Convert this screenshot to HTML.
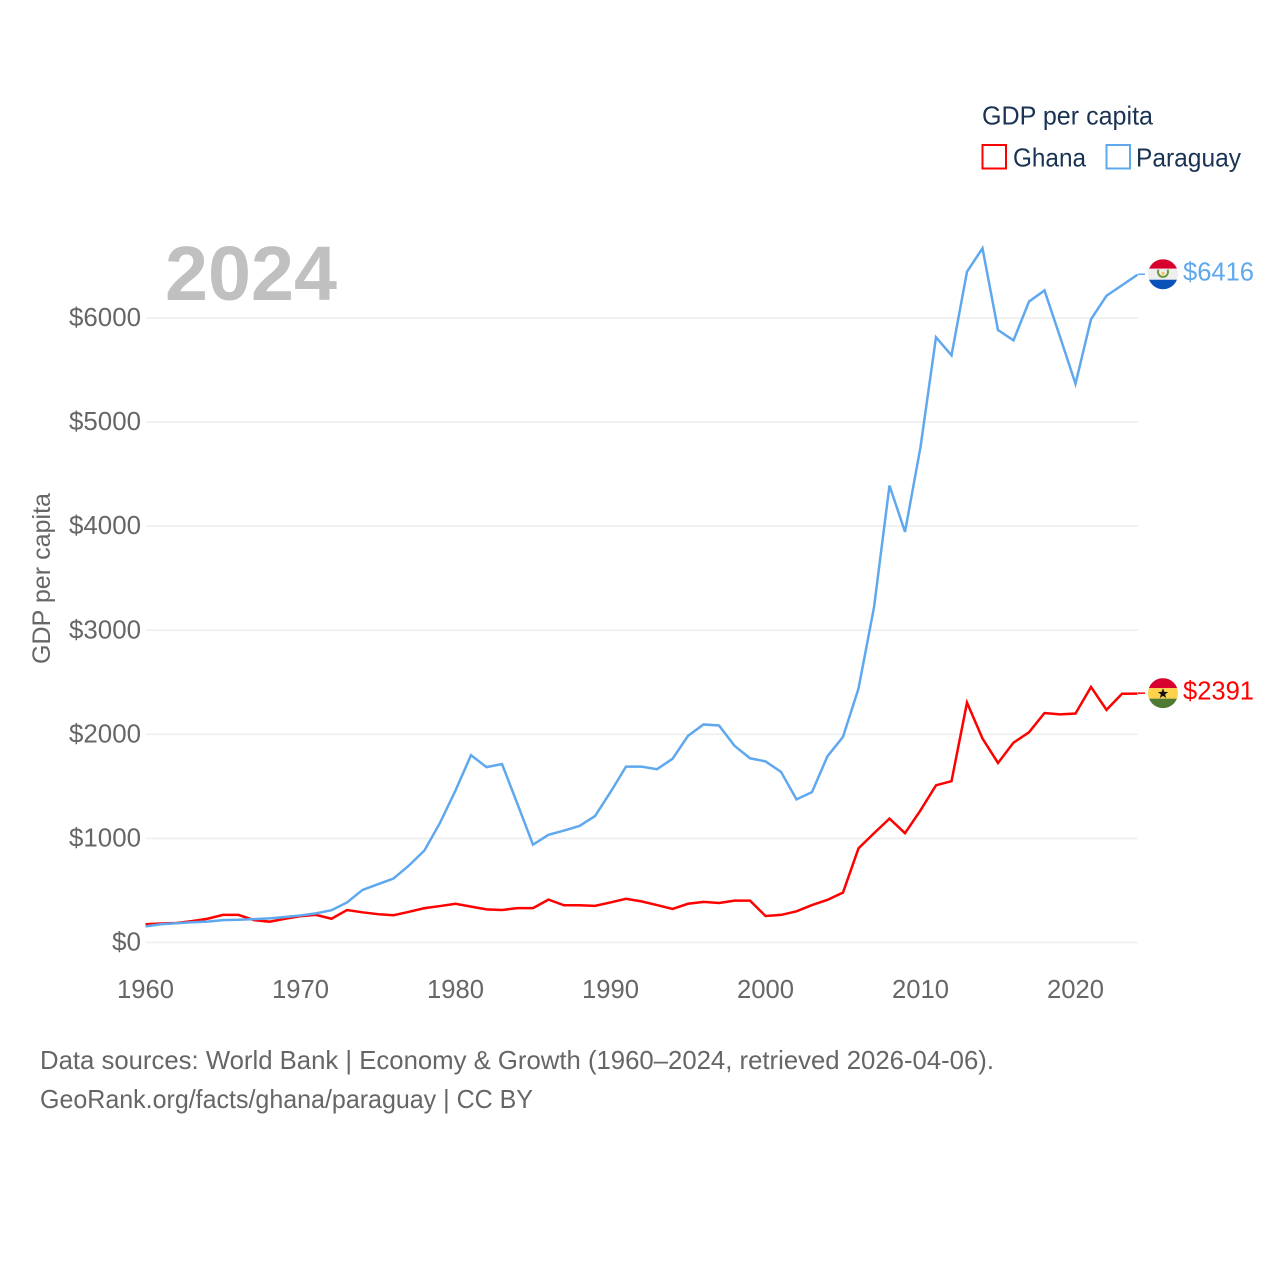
<!DOCTYPE html>
<html lang="en">
<head>
<meta charset="utf-8">
<title>GDP per capita: Ghana and Paraguay</title>
<style>
html,body{margin:0;padding:0;background:#fff;width:1280px;height:1280px;overflow:hidden}
svg{display:block;font-family:"Liberation Sans",sans-serif}
</style>
</head>
<body>
<svg id="chart" width="1280" height="1280" viewBox="0 0 1280 1280" xmlns="http://www.w3.org/2000/svg">
  <g id="grid"></g>
  <g id="yticks"></g>
  <g id="xticks"></g>
  <text transform="translate(50,664) rotate(-90)" font-size="25" fill="#666" textLength="171" lengthAdjust="spacingAndGlyphs">GDP per capita</text>
  <text x="165" y="300" font-size="77" font-weight="700" fill="#c0c0c0" textLength="172" lengthAdjust="spacingAndGlyphs">2024</text>
  <g id="series"></g>
  <g id="ends"></g>
  <g>
    <text x="982" y="124.5" font-size="26" fill="#1a3354" textLength="171" lengthAdjust="spacingAndGlyphs">GDP per capita</text>
    <g>
      <rect x="982.5" y="145" width="23.5" height="23.5" fill="none" stroke="#ff0000" stroke-width="2"/>
      <text x="1013" y="166.5" font-size="26" fill="#1a3354" textLength="73" lengthAdjust="spacingAndGlyphs">Ghana</text>
    </g>
    <g>
      <rect x="1106.5" y="145" width="23.5" height="23.5" fill="none" stroke="#5fa8ee" stroke-width="2"/>
      <text x="1136" y="166.5" font-size="26" fill="#1a3354" textLength="105" lengthAdjust="spacingAndGlyphs">Paraguay</text>
    </g>
  </g>
  <text x="40" y="1069" font-size="26" fill="#666" textLength="954" lengthAdjust="spacingAndGlyphs">Data sources: World Bank | Economy &amp; Growth (1960–2024, retrieved 2026-04-06).</text>
  <text x="40" y="1108" font-size="26" fill="#666" textLength="493" lengthAdjust="spacingAndGlyphs">GeoRank.org/facts/ghana/paraguay | CC BY</text>
</svg>
<script>
const years = [1960,1961,1962,1963,1964,1965,1966,1967,1968,1969,1970,1971,1972,1973,1974,1975,1976,1977,1978,1979,1980,1981,1982,1983,1984,1985,1986,1987,1988,1989,1990,1991,1992,1993,1994,1995,1996,1997,1998,1999,2000,2001,2002,2003,2004,2005,2006,2007,2008,2009,2010,2011,2012,2013,2014,2015,2016,2017,2018,2019,2020,2021,2022,2023,2024];
const ghanaValues = [175,182,187,205,228,265,265,215,200,228,253,265,228,312,290,272,262,295,330,350,372,345,318,312,330,330,412,358,358,352,385,420,395,360,322,372,390,380,402,402,255,265,300,360,410,480,905,1050,1190,1050,1270,1510,1550,2305,1960,1725,1920,2020,2205,2192,2200,2455,2235,2390,2391];
const paraguayValues = [155,175,185,195,200,215,218,225,232,245,260,280,310,385,505,560,615,740,885,1150,1460,1800,1685,1715,1330,940,1035,1075,1120,1215,1445,1690,1690,1665,1765,1985,2095,2085,1890,1770,1740,1640,1375,1445,1790,1975,2440,3220,4390,3945,4760,5815,5642,6445,6670,5885,5785,6158,6265,5820,5368,5988,6214,6315,6416];
const yTickValues = [0,1000,2000,3000,4000,5000,6000];
const xTickYears = [1960,1970,1980,1990,2000,2010,2020];

const NS = 'http://www.w3.org/2000/svg';
const xScale = function (yr) { return 145.5 + (yr - 1960) * 15.5; };
const yScale = function (v) { return 942.5 - v * 0.10408; };
const BLUE = '#5fa8ee';
const RED = '#ff0000';

function make(tag, attrs, parent, text) {
  const el = document.createElementNS(NS, tag);
  for (const k in attrs) el.setAttribute(k, attrs[k]);
  if (text !== undefined) el.textContent = text;
  parent.appendChild(el);
  return el;
}

const gridG = document.getElementById('grid');
const yG = document.getElementById('yticks');
yTickValues.forEach(function (v) {
  const line = make('line', {x1: 146, x2: 1138, y1: yScale(v), y2: yScale(v), stroke: '#eeeeee', 'stroke-width': 1.6}, gridG);
  
  
  const s = '$' + v;
  const w = s.length === 2 ? 29 : 72;
  const t = make('text', {x: 141 - w, y: yScale(v) + 8, 'font-size': 26, fill: '#666', textLength: w, lengthAdjust: 'spacingAndGlyphs'}, yG, s);
  
  
});

const xG = document.getElementById('xticks');
xTickYears.forEach(function (yr) {
  const t = make('text', {x: xScale(yr) - 28.5, y: 998, 'font-size': 26, fill: '#666', textLength: 57, lengthAdjust: 'spacingAndGlyphs'}, xG, String(yr));
  
  
});

function linePath(values) {
  return values.map(function (v, i) {
    return (i ? 'L' : 'M') + xScale(years[i]).toFixed(2) + ' ' + yScale(v).toFixed(2);
  }).join(' ');
}

const seriesG = document.getElementById('series');
const ghanaLine = make('path', {d: linePath(ghanaValues), fill: 'none', stroke: RED, 'stroke-width': 2.5, 'stroke-linejoin': 'miter'}, seriesG);


const paraguayLine = make('path', {d: linePath(paraguayValues), fill: 'none', stroke: BLUE, 'stroke-width': 2.5, 'stroke-linejoin': 'miter'}, seriesG);



const endsG = document.getElementById('ends');
const defs = make('defs', {}, endsG);
function clipFor(id, cy) {
  const c = make('clipPath', {id: id}, defs);
  make('circle', {cx: 1163, cy: cy, r: 15}, c);
}

// Paraguay end marker
const pv = paraguayValues[paraguayValues.length - 1];
const py = yScale(pv);
const pConn = make('line', {x1: 1138, x2: 1145, y1: py - 0.5, y2: py - 0.5, stroke: BLUE, 'stroke-width': 1.5}, endsG);


clipFor('clip-py', py - 0.5);
const pFlag = make('g', {'clip-path': 'url(#clip-py)'}, endsG);


make('rect', {x: 1148, y: py - 15.5, width: 30, height: 9.5, fill: '#d8002f'}, pFlag);
make('rect', {x: 1148, y: py - 6, width: 30, height: 11, fill: '#eeeeee'}, pFlag);
make('rect', {x: 1148, y: py + 5, width: 30, height: 11, fill: '#0a52b8'}, pFlag);
make('path', {d: 'M' + 1158.5 + ' ' + (py - 5) + ' a5 5 0 1 0 9 0', fill: 'none', stroke: '#6b9a3c', 'stroke-width': 2}, pFlag);
make('circle', {cx: 1163, cy: py - 1.5, r: 1.5, fill: '#f5c542'}, pFlag);
const pLabel = make('text', {x: 1183, y: py + 6, 'font-size': 26, fill: BLUE, textLength: 71, lengthAdjust: 'spacingAndGlyphs'}, endsG, '$' + pv);



// Ghana end marker
const gv = ghanaValues[ghanaValues.length - 1];
const gy = yScale(gv);
const gConn = make('line', {x1: 1138, x2: 1145, y1: gy - 0.5, y2: gy - 0.5, stroke: RED, 'stroke-width': 1.5}, endsG);


clipFor('clip-gh', gy - 0.5);
const gFlag = make('g', {'clip-path': 'url(#clip-gh)'}, endsG);


make('rect', {x: 1148, y: gy - 15.5, width: 30, height: 10, fill: '#d8002f'}, gFlag);
make('rect', {x: 1148, y: gy - 5.5, width: 30, height: 10.5, fill: '#fcd34a'}, gFlag);
make('rect', {x: 1148, y: gy + 5, width: 30, height: 11, fill: '#4e7a32'}, gFlag);
const star = [];
for (let i = 0; i < 10; i++) {
  const r = i % 2 ? 2.2 : 5.4;
  const a = -Math.PI / 2 + i * Math.PI / 5;
  star.push((1163 + r * Math.cos(a)).toFixed(2) + ',' + (gy + r * Math.sin(a)).toFixed(2));
}
make('polygon', {points: star.join(' '), fill: '#111'}, gFlag);
const gLabel = make('text', {x: 1183, y: gy + 6, 'font-size': 26, fill: RED, textLength: 71, lengthAdjust: 'spacingAndGlyphs'}, endsG, '$' + gv);


</script>
</body>
</html>
